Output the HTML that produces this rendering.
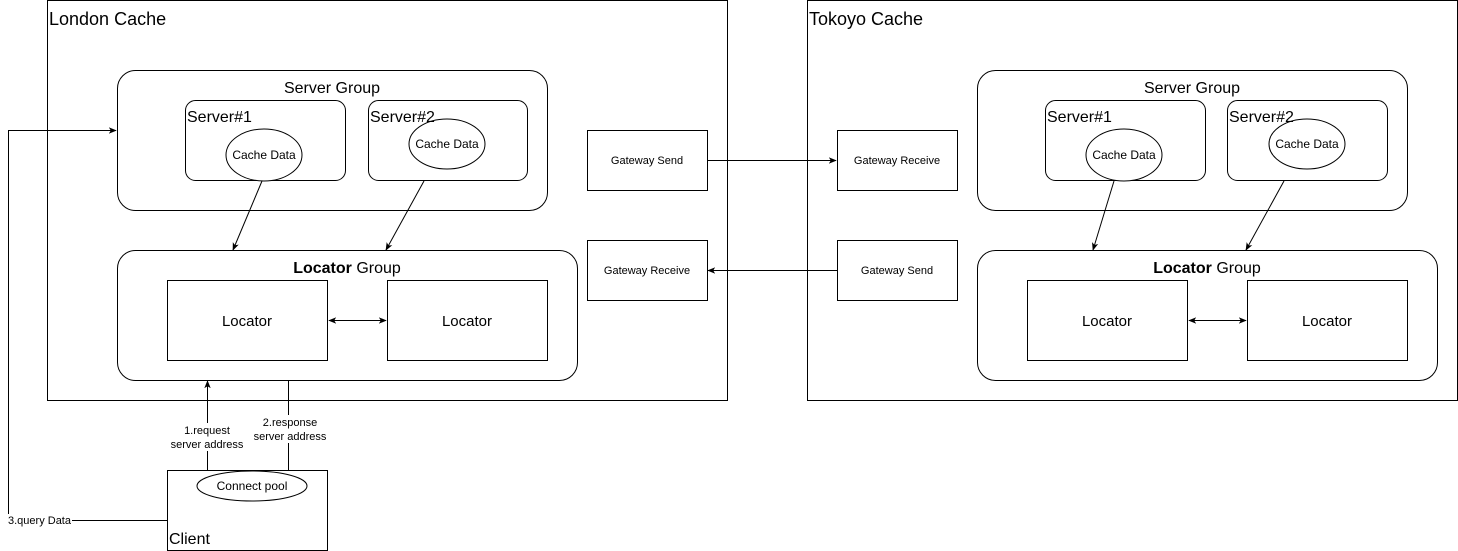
<!DOCTYPE html>
<html><head><style>body{margin:0;background:#fff}svg{display:block}text{font-family:"Liberation Sans",Arial,sans-serif;fill:#000}</style></head><body>
<svg width="1458" height="551" viewBox="0 0 1458 551" xmlns="http://www.w3.org/2000/svg">
<defs><marker id="a" viewBox="0 0 10 10" refX="9" refY="5" markerWidth="8" markerHeight="8" orient="auto-start-reverse" markerUnits="userSpaceOnUse"><path d="M0,1 L10,5 L0,9 L2.5,5 Z" fill="#000"/></marker></defs>
<g fill="#fff" stroke="#000" stroke-width="1">
<rect x="47.5" y="0.5" width="680" height="400"/>
<rect x="807.5" y="0.5" width="650" height="400"/>
<rect x="117.5" y="70.5" width="430" height="140" rx="18"/>
<rect x="185.5" y="100.5" width="160" height="80" rx="10"/>
<rect x="368.5" y="100.5" width="159" height="80" rx="10"/>
<ellipse cx="264" cy="155" rx="38" ry="26"/>
<ellipse cx="447" cy="144" rx="38" ry="25"/>
<rect x="117.5" y="250.5" width="460" height="130" rx="18"/>
<rect x="167.5" y="280.5" width="160" height="80"/>
<rect x="387.5" y="280.5" width="160" height="80"/>
<rect x="587.5" y="130.5" width="120" height="60"/>
<rect x="587.5" y="240.5" width="120" height="60"/>
<rect x="837.5" y="130.5" width="120" height="60"/>
<rect x="837.5" y="240.5" width="120" height="60"/>
<rect x="977.5" y="70.5" width="430" height="140" rx="18"/>
<rect x="1045.5" y="100.5" width="160" height="80" rx="10"/>
<rect x="1227.5" y="100.5" width="160" height="80" rx="10"/>
<ellipse cx="1124" cy="155" rx="38" ry="26"/>
<ellipse cx="1307" cy="144" rx="38" ry="25"/>
<rect x="977.5" y="250.5" width="460" height="130" rx="18"/>
<rect x="1027.5" y="280.5" width="160" height="80"/>
<rect x="1247.5" y="280.5" width="160" height="80"/>
<rect x="167.5" y="470.5" width="160" height="80"/>
<ellipse cx="252" cy="486" rx="55" ry="15"/>
</g>
<g stroke="#000" fill="none" stroke-width="1">
<line x1="262" y1="181" x2="233" y2="250" marker-end="url(#a)"/>
<line x1="424" y1="181" x2="386" y2="250" marker-end="url(#a)"/>
<line x1="1114" y1="181" x2="1093" y2="250" marker-end="url(#a)"/>
<line x1="1284" y1="181" x2="1246" y2="250" marker-end="url(#a)"/>
<line x1="329" y1="320.5" x2="386" y2="320.5" marker-start="url(#a)" marker-end="url(#a)"/>
<line x1="1189" y1="320.5" x2="1246" y2="320.5" marker-start="url(#a)" marker-end="url(#a)"/>
<line x1="707" y1="160.5" x2="836" y2="160.5" marker-end="url(#a)"/>
<line x1="837" y1="270.5" x2="708" y2="270.5" marker-end="url(#a)"/>
<line x1="207.5" y1="470" x2="207.5" y2="381" marker-end="url(#a)"/>
<line x1="288.5" y1="381" x2="288.5" y2="470"/>
<polyline points="167,520.5 8.5,520.5 8.5,130.5 116,130.5" marker-end="url(#a)"/>
</g>
<rect x="160" y="423" width="94" height="28" fill="#fff"/>
<rect x="252" y="415" width="76" height="28" fill="#fff"/>
<rect x="8" y="514" width="64" height="13" fill="#fff"/>
<g font-size="18"><text x="49" y="25">London Cache</text><text x="809" y="25">Tokoyo Cache</text></g>
<g font-size="16" text-anchor="middle">
<text x="332" y="93">Server Group</text><text x="1192" y="93">Server Group</text>
<text x="347" y="273"><tspan font-weight="bold">Locator</tspan> Group</text>
<text x="1207" y="273"><tspan font-weight="bold">Locator</tspan> Group</text>
</g>
<g font-size="15" text-anchor="middle">
<text x="247" y="326">Locator</text><text x="467" y="326">Locator</text>
<text x="1107" y="326">Locator</text><text x="1327" y="326">Locator</text>
</g>
<g font-size="16"><text x="187" y="122">Server#1</text><text x="370" y="122">Server#2</text>
<text x="1047" y="122">Server#1</text><text x="1229" y="122">Server#2</text>
<text x="169" y="544">Client</text></g>
<g font-size="12" text-anchor="middle">
<text x="264" y="159">Cache Data</text><text x="447" y="148">Cache Data</text>
<text x="1124" y="159">Cache Data</text><text x="1307" y="148">Cache Data</text>
<text x="252" y="490">Connect pool</text>
</g>
<g font-size="11" text-anchor="middle">
<text x="647" y="164">Gateway Send</text><text x="647" y="274">Gateway Receive</text>
<text x="897" y="164">Gateway Receive</text><text x="897" y="274">Gateway Send</text>
<text x="207" y="434">1.request</text><text x="207" y="448">server address</text>
<text x="290" y="426">2.response</text><text x="290" y="440">server address</text>
</g>
<text x="8" y="524" font-size="11">3.query Data</text>
</svg>
</body></html>
